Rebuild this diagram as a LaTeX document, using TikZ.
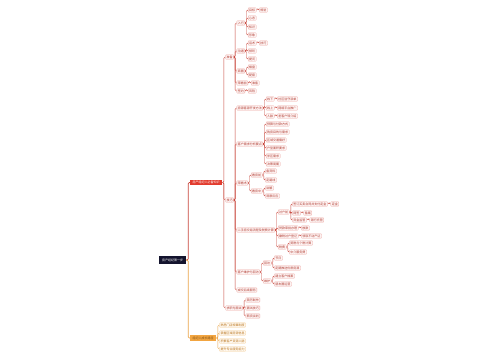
\documentclass[tikz,border=0pt]{standalone}
\usepackage{fontspec}
\newfontfamily\cjk{Noto Sans CJK SC}
\definecolor{rootc}{HTML}{14142E}
\definecolor{redc}{HTML}{E23B2E}
\definecolor{redline}{HTML}{C9473D}
\definecolor{redtext}{HTML}{B03A30}
\definecolor{redbd}{HTML}{EDA7A2}
\definecolor{redbg}{HTML}{FDF3F2}
\definecolor{orc}{HTML}{F2A541}
\definecolor{orline}{HTML}{EBA54A}
\definecolor{ortext}{HTML}{B8731C}
\definecolor{orbd}{HTML}{F3C98E}
\definecolor{orbg}{HTML}{FFF8EE}
\newcommand\mmkid[5][leaf]{%
  \path (#3.east) ++(3pt,0) coordinate (tmpk);
  \node[#1,anchor=west] (#2) at (tmpk |- 0,#4) {#5};
  \draw[link] (#3.east) -- ++(1.5pt,0) |- (#2.west);
}
\begin{document}
\begin{tikzpicture}[x=1pt,y=-1pt,
  mmfont/.style={font=\cjk\fontsize{3}{3.6}\selectfont},
  leaf/.style={mmfont,draw=redbd,fill=redbg,text=redtext,line width=0.3pt,rounded corners=0.6pt,inner xsep=1pt,inner ysep=0.8pt},
  link/.style={draw=redline,line width=0.45pt,rounded corners=1.2pt},
  rootbox/.style={mmfont,fill=rootc,text=white,inner xsep=3pt,inner ysep=2.4pt},
  redbox/.style={mmfont,fill=redc,text=white,inner xsep=2.5pt,inner ysep=1.3pt},
  orbox/.style={mmfont,fill=orc,text=ortext!70!black,inner xsep=2.5pt,inner ysep=1.3pt}]
\fill[white] (0,0) rectangle (500,360);
\useasboundingbox (0,0) rectangle (500,360);

\node[rootbox] (root) at (172.5,260) {房产经纪第一步};
\node[redbox,anchor=west] (R) at (190,182.5) {房产经纪人必备知识};
\node[orbox,anchor=west] (O) at (190,338) {经纪人成长路径};
\draw[link,line width=0.7pt] (root.east) -- ++(2pt,0) |- (R.west);
\draw[link,draw=orline,line width=0.7pt] (root.east) -- ++(2pt,0) |- (O.west);

% ---------- branch A ----------
\mmkid{A}{R}{57}{准备}
\mmkid{A1}{A}{23}{入行}
\mmkid{A11}{A1}{10}{目标}
\mmkid{A111}{A11}{10}{规划}
\mmkid{A12}{A1}{18}{心态}
\mmkid{A13}{A1}{27}{知识}
\mmkid{A14}{A1}{35}{形象}
\mmkid{A2}{A}{51}{沟通}
\mmkid{A21}{A2}{43}{话术}
\mmkid{A211}{A21}{43}{技巧}
\mmkid{A22}{A2}{51}{倾听}
\mmkid{A23}{A2}{59}{提问}
\mmkid{A3}{A}{71}{商圈}
\mmkid{A31}{A3}{67}{楼盘}
\mmkid{A32}{A3}{75}{配套}
\mmkid{A4}{A}{83}{带看前}
\mmkid{A41}{A4}{83}{准备}
\mmkid{A5}{A}{91}{签约}
\mmkid{A51}{A5}{91}{风险}

% ---------- branch B ----------
\mmkid{B}{R}{200}{技巧}
\mmkid{B1}{B}{108}{房源客源开发方法}
\mmkid{B11}{B1}{99}{线下}
\mmkid{B111}{B11}{99}{社区驻守派单}
\mmkid{B12}{B1}{108}{线上}
\mmkid{B121}{B12}{108}{网络平台推广}
\mmkid{B13}{B1}{116}{人脉}
\mmkid{B131}{B13}{116}{老客户转介绍}
\mmkid{B2}{B}{144}{客户需求分析要点}
\mmkid{B21}{B2}{124}{预算与付款方式}
\mmkid{B22}{B2}{132}{购房目的与需求}
\mmkid{B23}{B2}{140}{区域交通偏好}
\mmkid{B24}{B2}{148}{户型面积要求}
\mmkid{B25}{B2}{156}{学区需求}
\mmkid{B26}{B2}{164}{决策周期}
\mmkid{B3}{B}{183}{带看术}
\mmkid{B31}{B3}{175}{看房前}
\mmkid{B311}{B31}{171}{备资料}
\mmkid{B312}{B31}{180}{定路线}
\mmkid{B32}{B3}{191}{看房中}
\mmkid{B321}{B32}{188}{讲解}
\mmkid{B322}{B32}{196}{观察反应}
\mmkid{B4}{B}{230}{二手房交易流程及税费计算}
\mmkid{B41}{B4}{212}{过户前}
\mmkid{B411}{B41}{204}{签订买卖合同并支付定金}
\mmkid{B4111}{B411}{204}{定金}
\mmkid{B412}{B41}{213}{网签}
\mmkid{B4121}{B412}{213}{备案}
\mmkid{B413}{B41}{220}{资金监管}
\mmkid{B4131}{B413}{220}{银行托管}
\mmkid{B42}{B4}{228}{贷款审批办理}
\mmkid{B421}{B42}{228}{放款}
\mmkid{B43}{B4}{236}{缴税过户登记}
\mmkid{B431}{B43}{236}{领取不动产证}
\mmkid{B44}{B4}{247}{税费}
\mmkid{B441}{B44}{243}{契税与个税计算}
\mmkid{B442}{B44}{252}{中介服务费}
\mmkid{B5}{B}{272}{客户维护与回访}
\mmkid{B51}{B5}{263}{回访}
\mmkid{B511}{B51}{258}{节日}
\mmkid{B512}{B51}{268}{定期推送优质房源}
\mmkid{B52}{B5}{281}{维护}
\mmkid{B521}{B52}{276}{建立客户档案}
\mmkid{B522}{B52}{284}{朋友圈运营}
\mmkid{B6}{B}{290}{成交后续服务}

% ---------- branch C ----------
\mmkid{C}{R}{308}{求职与面试}
\mmkid{C1}{C}{300}{简历制作}
\mmkid{C2}{C}{308}{面试技巧}
\mmkid{C3}{C}{316}{薪资谈判}

% ---------- orange branch ----------
\begin{scope}[leaf/.style={mmfont,draw=orbd,fill=orbg,text=ortext,line width=0.3pt,rounded corners=0.6pt,inner xsep=1pt,inner ysep=0.8pt},
  link/.style={draw=orline,line width=0.45pt,rounded corners=1.2pt}]
\mmkid{O1}{O}{325}{熟悉门店规章制度}
\mmkid{O2}{O}{333}{掌握区域房源信息}
\mmkid{O3}{O}{341}{积累客户资源人脉}
\mmkid{O4}{O}{349}{提升专业服务能力}
\end{scope}
\end{tikzpicture}
\end{document}
